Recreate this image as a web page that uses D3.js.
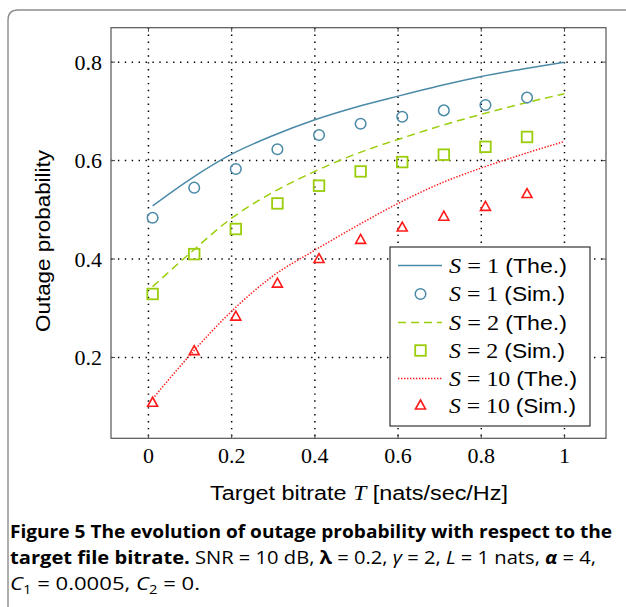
<!DOCTYPE html>
<html><head><meta charset="utf-8">
<script src="https://cdn.jsdelivr.net/npm/d3@7"></script>
<style>body{margin:0;background:#fff}svg{display:block}</style>
</head><body><svg id="c" width="626" height="607"></svg>
<script>
// ---- data ----
const simT = [0.01,0.11,0.21,0.31,0.41,0.51,0.61,0.71,0.81,0.91];
const theT = [0.01,0.1,0.2,0.3,0.4,0.5,0.6,0.7,0.8,0.9,1.0];
const s1The = [0.508,0.562,0.613,0.651,0.683,0.709,0.731,0.752,0.771,0.786,0.800];
const s2The = [0.344,0.412,0.483,0.536,0.578,0.614,0.643,0.670,0.694,0.716,0.736];
const s10The = [0.116,0.205,0.294,0.366,0.418,0.467,0.513,0.553,0.585,0.613,0.639];
const s1Sim = [0.484,0.545,0.583,0.623,0.652,0.675,0.689,0.702,0.713,0.728];
const s2Sim = [0.329,0.410,0.461,0.513,0.549,0.578,0.597,0.612,0.628,0.648];
const s10Sim = [0.108,0.213,0.283,0.350,0.400,0.439,0.464,0.486,0.506,0.532];
const xTicks = [0,0.2,0.4,0.6,0.8,1];
const yTicks = [0.2,0.4,0.6,0.8];
const legendLabels = [["1","The."],["1","Sim."],["2","The."],["2","Sim."],["10","The."],["10","Sim."]];

const svg = d3.select("#c");
const L=111, R=606, T=27.7, B=438.3;
const x = d3.scaleLinear().domain([-0.09,1.0998]).range([L,R]);
const y = d3.scaleLinear().domain([0.0358,0.870]).range([B,T]);
const cBlue="#4a8aa7", cGreen="#9acd0a", cRed="#ff1a1a";

function fit(sel,w){const n=sel.node();const cur=n.getComputedTextLength();
  if(Math.abs(cur-w)>1.5) sel.attr("textLength",w).attr("lengthAdjust","spacingAndGlyphs");}

// outer frame
svg.append("path").attr("d","M8,607 L8,20 Q8,10 18,10 L626,10")
  .attr("fill","none").attr("stroke","#8c8c8c").attr("stroke-width",1.4);

// grid
const g = svg.append("g");
xTicks.forEach(t=>g.append("line").attr("x1",x(t)).attr("x2",x(t)).attr("y1",T).attr("y2",B)
  .attr("stroke","#000").attr("stroke-width",1.5).attr("stroke-dasharray","1.4,5.5"));
yTicks.forEach(t=>g.append("line").attr("y1",y(t)).attr("y2",y(t)).attr("x1",L).attr("x2",R)
  .attr("stroke","#000").attr("stroke-width",1.5).attr("stroke-dasharray","1.4,5.5"));
// ticks
xTicks.forEach(t=>{
  g.append("line").attr("x1",x(t)).attr("x2",x(t)).attr("y1",B).attr("y2",B-4).attr("stroke","#444");
  g.append("line").attr("x1",x(t)).attr("x2",x(t)).attr("y1",T).attr("y2",T+4).attr("stroke","#444");
});
yTicks.forEach(t=>{
  g.append("line").attr("y1",y(t)).attr("y2",y(t)).attr("x1",L).attr("x2",L+4).attr("stroke","#444");
  g.append("line").attr("y1",y(t)).attr("y2",y(t)).attr("x1",R).attr("x2",R-4).attr("stroke","#444");
});

// tick labels
const serif="'Liberation Serif','DejaVu Serif',serif";
const sans="'Liberation Sans','DejaVu Sans',sans-serif";
xTicks.forEach(t=>svg.append("text").attr("x",x(t)).attr("y",462.5).attr("text-anchor","middle")
  .attr("font-family",serif).attr("font-size",22).text(d3.format("~g")(t)));
yTicks.forEach(t=>svg.append("text").attr("x",102).attr("y",y(t)+7.5).attr("text-anchor","end")
  .attr("font-family",serif).attr("font-size",22).text(t.toFixed(1)));

// plot frame
svg.append("rect").attr("x",L).attr("y",T).attr("width",R-L).attr("height",B-T)
  .attr("fill","none").attr("stroke","#555").attr("stroke-width",1.2);

// curves
const line = d3.line().x(d=>x(d[0])).y(d=>y(d[1])).curve(d3.curveMonotoneX);
const curves=[[s1The,cBlue,null],[s2The,cGreen,"8,5"],[s10The,cRed,"1.4,1.6"]];
curves.forEach(([vals,col,dash])=>{
  svg.append("path").attr("d",line(theT.map((t,i)=>[t,vals[i]])))
    .attr("fill","none").attr("stroke",col).attr("stroke-width",1.5)
    .attr("stroke-dasharray",dash);
});

// markers
function marker(sel,type,cx,cy){
  if(type==="circle") sel.append("circle").attr("cx",cx).attr("cy",cy).attr("r",5.3)
     .attr("fill","none").attr("stroke",cBlue).attr("stroke-width",1.5);
  else if(type==="square") sel.append("rect").attr("x",cx-5.3).attr("y",cy-5.3).attr("width",10.6).attr("height",10.6)
     .attr("fill","none").attr("stroke",cGreen).attr("stroke-width",1.8);
  else sel.append("path").attr("d",`M${cx},${cy-5.5} L${cx+5},${cy+3.5} L${cx-5},${cy+3.5} Z`)
     .attr("fill","none").attr("stroke",cRed).attr("stroke-width",1.6);
}
const mk=svg.append("g");
simT.forEach((t,i)=>{
  marker(mk,"circle",x(t),y(s1Sim[i]));
  marker(mk,"square",x(t),y(s2Sim[i]));
  marker(mk,"tri",x(t),y(s10Sim[i]));
});

// legend
const lg=svg.append("g");
lg.append("rect").attr("x",390).attr("y",247).attr("width",200).attr("height",179)
  .attr("fill","#fff").attr("stroke","#333").attr("stroke-width",1.2);
const rowY=[265.5,294,322.5,350.5,378.5,405.5];
const rowW=[118,116,118,116,128,127];
legendLabels.forEach((lab,i)=>{
  const yy=rowY[i];
  if(i===0) lg.append("line").attr("x1",398).attr("x2",442).attr("y1",yy).attr("y2",yy).attr("stroke",cBlue).attr("stroke-width",1.5);
  if(i===2) lg.append("line").attr("x1",398).attr("x2",442).attr("y1",yy).attr("y2",yy).attr("stroke",cGreen).attr("stroke-width",1.5).attr("stroke-dasharray","8,5");
  if(i===4) lg.append("line").attr("x1",398).attr("x2",442).attr("y1",yy).attr("y2",yy).attr("stroke",cRed).attr("stroke-width",1.5).attr("stroke-dasharray","1.4,1.6");
  if(i===1) marker(lg,"circle",420.5,yy);
  if(i===3) marker(lg,"square",420.5,yy);
  if(i===5) marker(lg,"tri",420.5,yy);
  const tx=lg.append("text").attr("x",449).attr("y",yy+7).attr("font-size",21);
  tx.append("tspan").attr("font-family",serif).attr("font-style","italic").text("S");
  tx.append("tspan").attr("font-family",serif).text(" = "+lab[0]+" ");
  tx.append("tspan").attr("font-family",sans).attr("font-size",20).text("("+lab[1]+")");
  fit(tx,rowW[i]);
});

// axis labels
const yl=svg.append("text").attr("transform","translate(50,241) rotate(-90)").attr("text-anchor","middle")
  .attr("font-family",sans).attr("font-size",21).text("Outage probability");
const xl=svg.append("text").attr("x",359).attr("y",500).attr("text-anchor","middle").attr("font-size",20);
xl.append("tspan").attr("font-family",sans).text("Target bitrate ");
xl.append("tspan").attr("font-family",serif).attr("font-style","italic").text("T");
xl.append("tspan").attr("font-family",sans).text(" [nats/sec/Hz]");
fit(yl,182); fit(xl,298);

// caption
const cap="'Open Sans','Noto Sans',sans-serif";
const c1=svg.append("text").attr("x",10).attr("y",538).attr("font-family",cap).attr("font-size",18).attr("font-weight","bold")
  .text("Figure 5 The evolution of outage probability with respect to the");
fit(c1,602);
const c2=svg.append("text").attr("x",10).attr("y",564).attr("font-family",cap).attr("font-size",18);
c2.append("tspan").attr("font-weight","bold").text("target file bitrate.");
c2.append("tspan").text(" SNR = 10 dB, ");
c2.append("tspan").attr("font-weight","bold").text("λ");
c2.append("tspan").text(" = 0.2, ");
c2.append("tspan").attr("font-style","italic").text("γ");
c2.append("tspan").text(" = 2, ");
c2.append("tspan").attr("font-style","italic").text("L");
c2.append("tspan").text(" = 1 nats, ");
c2.append("tspan").attr("font-style","italic").attr("font-weight","bold").text("α");
c2.append("tspan").text(" = 4,");
fit(c2,586);
const c3=svg.append("text").attr("x",10).attr("y",590).attr("font-family",cap).attr("font-size",18);
c3.append("tspan").attr("font-style","italic").text("C");
c3.append("tspan").attr("font-size",12).attr("dy",4).text("1");
c3.append("tspan").attr("dy",-4).text(" = 0.0005, ");
c3.append("tspan").attr("font-style","italic").text("C");
c3.append("tspan").attr("font-size",12).attr("dy",4).text("2");
c3.append("tspan").attr("dy",-4).text(" = 0.");
fit(c3,190);
</script></body></html>
